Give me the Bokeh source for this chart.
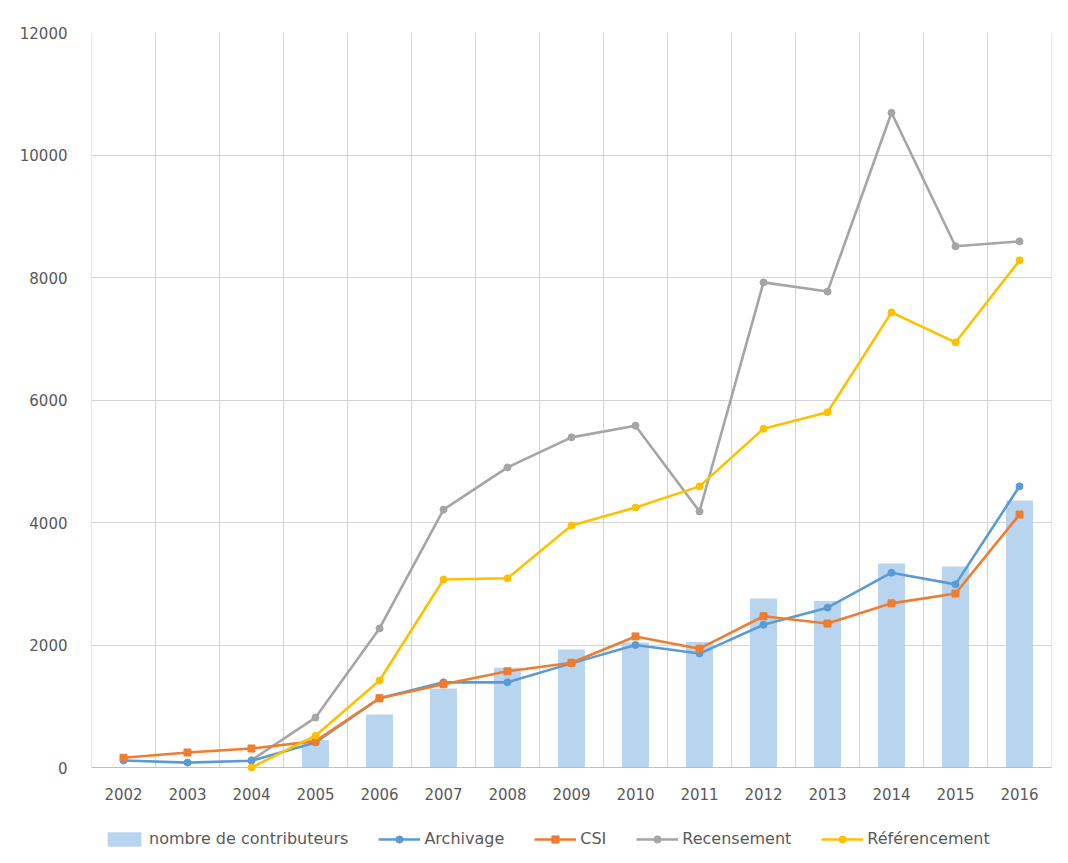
import numpy as np
from bokeh.plotting import figure
from bokeh.models import (ColumnDataSource, Range1d, FixedTicker, Legend, LegendItem)
from bokeh.embed import file_html
from bokeh.resources import INLINE

years = ["2002", "2003", "2004", "2005", "2006", "2007", "2008", "2009",
         "2010", "2011", "2012", "2013", "2014", "2015", "2016"]
contributeurs = [0, 0, 0, 450, 865, 1290, 1630, 1925, 2040, 2050, 2760, 2720, 3330, 3280, 4360]
archivage = [115, 80, 110, 410, 1130, 1390, 1390, 1700, 2000, 1860, 2330, 2610, 3180, 2990, 4590]
csi = [160, 245, 310, 430, 1130, 1360, 1570, 1710, 2140, 1940, 2470, 2350, 2680, 2840, 4130]
recensement = [np.nan, np.nan, 120, 815, 2270, 4210, 4900, 5390, 5580, 4180, 7920, 7770, 10690, 8510, 8590]
referencement = [np.nan, np.nan, 0, 520, 1420, 3070, 3090, 3950, 4245, 4590, 5530, 5800, 7430, 6940, 8280]
y_ticks = [0, 2000, 4000, 6000, 8000, 10000, 12000]

xs = list(range(len(years)))
src = ColumnDataSource(dict(x=xs, bar=contributeurs, arch=archivage, csi=csi,
                            rec=recensement, ref=referencement))

# frame extends below zero to host the legend; 0 -> 767px, 12000 -> 32px
y_top = y_ticks[-1]
px_per_unit = 735.0 / y_top
y_bottom = -(863 - 767) / px_per_unit

p = figure(frame_width=960, frame_height=831, output_backend="svg", toolbar_location=None,
           x_range=Range1d(-0.5, len(years) - 0.5), y_range=Range1d(y_bottom, y_top),
           min_border_left=91, min_border_right=17, min_border_top=32, min_border_bottom=0)
p.outline_line_color = None
p.background_fill_color = "white"
p.border_fill_color = "white"

BLUE, ORANGE, GRAY, YELLOW, BAR = "#5b9bd5", "#ed7d31", "#a5a5a5", "#ffc000", "#b9d4ee"
GRID = "#d4d4d4"

# vertical grid lines at category boundaries, spanning 0..12000 only
bounds = [i - 0.5 for i in range(len(years) + 1)]
p.segment(x0=bounds, y0=[0] * len(bounds), x1=bounds, y1=[y_top] * len(bounds),
          line_color=GRID, line_width=1)

bars = p.vbar(x="x", top="bar", width=0.42, source=src, fill_color=BAR, line_color=None)

r_rec = p.line("x", "rec", source=src, line_color=GRAY, line_width=2.6)
m_rec = p.scatter("x", "rec", source=src, marker="circle", size=7, fill_color=GRAY, line_color=GRAY)
r_arch = p.line("x", "arch", source=src, line_color=BLUE, line_width=2.6)
m_arch = p.scatter("x", "arch", source=src, marker="circle", size=7, fill_color=BLUE, line_color=BLUE)
r_csi = p.line("x", "csi", source=src, line_color=ORANGE, line_width=2.6)
m_csi = p.scatter("x", "csi", source=src, marker="square", size=7, fill_color=ORANGE, line_color=ORANGE)
r_ref = p.line("x", "ref", source=src, line_color=YELLOW, line_width=2.6)
m_ref = p.scatter("x", "ref", source=src, marker="circle", size=7, fill_color=YELLOW, line_color=YELLOW)

# axes
p.xaxis.ticker = FixedTicker(ticks=xs)
p.xaxis.major_label_overrides = {i: y for i, y in enumerate(years)}
p.xaxis.fixed_location = 0
p.yaxis.ticker = FixedTicker(ticks=y_ticks)
for ax in (p.xaxis, p.yaxis):
    ax.major_tick_line_color = None
    ax.minor_tick_line_color = None
    ax.major_label_text_font = "DejaVu Sans"
    ax.major_label_text_font_size = "15px"
    ax.major_label_text_color = "#595959"
p.yaxis.axis_line_color = None
p.yaxis.major_label_standoff = 18
p.xaxis.axis_line_color = "#bfbfbf"
p.xaxis.axis_line_width = 1
p.xaxis.major_label_standoff = 14

p.xgrid.visible = False
p.ygrid.grid_line_color = GRID

legend = Legend(items=[
    LegendItem(label="nombre de contributeurs", renderers=[bars]),
    LegendItem(label="Archivage", renderers=[r_arch, m_arch]),
    LegendItem(label="CSI", renderers=[r_csi, m_csi]),
    LegendItem(label="Recensement", renderers=[r_rec, m_rec]),
    LegendItem(label="Référencement", renderers=[r_ref, m_ref]),
], orientation="horizontal", location=(12, 15))
legend.border_line_color = None
legend.background_fill_alpha = 0
legend.padding = 0
legend.margin = 0
legend.spacing = 30
legend.glyph_width = 42
legend.glyph_height = 18
legend.label_standoff = 4
legend.label_text_font = "DejaVu Sans"
legend.label_text_font_size = "16px"
legend.label_text_color = "#595959"
p.add_layout(legend, "center")

open("out.html", "w").write(file_html(p, INLINE))
